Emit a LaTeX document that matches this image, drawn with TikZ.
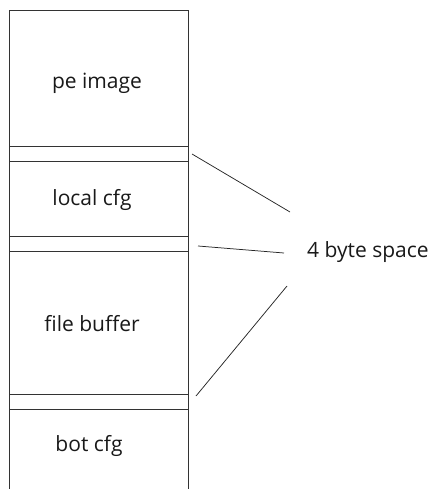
\documentclass[tikz,border=0pt]{standalone}
\usepackage{fontspec}
\setmainfont{Open Sans}
\begin{document}
\begin{tikzpicture}[x=1pt,y=-1pt,
  wall/.style={draw=black!80, line width=1pt},
  lead/.style={draw=black!85, line width=0.75pt},
  lbl/.style={font=\fontsize{21}{24}\selectfont, text=black!90, inner sep=0pt}]
\useasboundingbox (0,0) rectangle (432,489);
% stack outline
\draw[wall] (9,489) -- (9,11) -- (188,11) -- (188,489);
\draw[wall] (9,147) -- (188,147);
\draw[wall] (9,161) -- (188,161);
\draw[wall] (9,236) -- (188,236);
\draw[wall] (9,251) -- (188,251);
\draw[wall] (9,394) -- (188,394);
\draw[wall] (9,409) -- (188,409);
% labels
\node[lbl] (pe) at (97,83) {pe image};
\node[lbl] (lc) at (92,200) {local cfg};
\node[lbl] (fb) at (92,324) {file buffer};
\node[lbl] (bc) at (89,446) {bot cfg};
\node[lbl, anchor=west] (sp) at (307,252) {4 byte space};
% leader lines
\coordinate (s1) at (192,154);
\coordinate (e1) at (290,212);
\coordinate (s2) at (198,246);
\coordinate (e2) at (284,253);
\coordinate (s3) at (196,396);
\coordinate (e3) at (287,286);
\draw[lead] (s1) -- (e1);
\draw[lead] (s2) -- (e2);
\draw[lead] (s3) -- (e3);
\end{tikzpicture}
\end{document}
